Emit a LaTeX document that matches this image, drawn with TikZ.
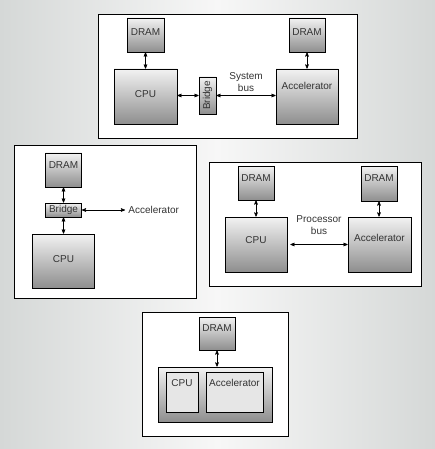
\documentclass[tikz,border=0pt]{standalone}
\usepackage{fontspec}
\setmainfont{Liberation Sans}
\usetikzlibrary{arrows}

\definecolor{bgside}{HTML}{D5D8D7}
\definecolor{bgmid}{HTML}{F7F7F7}
\definecolor{chiptop}{HTML}{F2F2F2}
\definecolor{chipbot}{HTML}{8E8E8E}
\definecolor{corefill}{HTML}{E6E6E6}

\begin{document}
\begin{tikzpicture}[-,>=stealth',x=1pt,y=-1pt,line width=0.8pt,
    chip/.style={draw,top color=chiptop,bottom color=chipbot,inner sep=0pt,text=black!80},
    core/.style={draw,fill=corefill,inner sep=0pt},
    panel/.style={draw,fill=white},
    lbl/.style={text=black!80,inner sep=0pt},
    bus/.style={<->,line width=0.6pt}]

  \shade[left color=bgside,right color=bgside,middle color=bgmid] (0,0) rectangle (435,449);

  % system bus
  \draw[panel] (98,14) rectangle (357,138);
  \node[chip,minimum width=37pt,minimum height=34pt,label={[lbl,yshift=3pt]center:DRAM}] (dramA1) at (145.5,35) {};
  \node[chip,minimum width=36pt,minimum height=34pt,label={[lbl,yshift=3pt]center:DRAM}] (dramA2) at (307,35) {};
  \node[chip,minimum width=63pt,minimum height=55pt,label={[lbl,yshift=2.5pt]center:CPU}] (cpuA) at (145.5,96.5) {};
  \node[chip,minimum width=17pt,minimum height=37pt,label={[lbl,rotate=90]center:Bridge}] (bridgeA) at (207.5,95.5) {};
  \node[chip,minimum width=62pt,minimum height=55pt,label={[lbl,yshift=10.5pt]center:Accelerator}] (accA) at (307,96.5) {};
  \node[lbl,align=center] (sysbus) at (246,82.5) {System\\bus};

  \draw[bus] (dramA1) -- (cpuA);
  \draw[bus] (dramA2) -- (accA);
  \draw[bus] (bridgeA.west -| cpuA.east) -- (bridgeA.west);
  \draw[bus] (bridgeA.east) -- (bridgeA.east -| accA.west);

  % bridge on the memory path
  \draw[panel] (14,145) rectangle (196,298);
  \node[chip,minimum width=36pt,minimum height=34pt,label={[lbl,yshift=5pt]center:DRAM}] (dramB) at (63.5,170) {};
  \node[chip,minimum width=36pt,minimum height=14pt] (bridgeB) at (63.5,210) {Bridge};
  \node[chip,minimum width=62pt,minimum height=54pt,label={[lbl,yshift=2pt]center:CPU}] (cpuB) at (63.5,261) {};
  \node[lbl,anchor=west] (accB) at (128,210) {Accelerator};

  \draw[bus] (dramB) -- (bridgeB);
  \draw[bus] (bridgeB) -- (cpuB);
  \draw[bus,shorten >=3pt] (bridgeB) -- (accB);

  % processor bus
  \draw[panel] (209,162) rectangle (421,286);
  \node[chip,minimum width=36pt,minimum height=34pt,label={[lbl,yshift=5pt]center:DRAM}] (dramC1) at (256,183) {};
  \node[chip,minimum width=36pt,minimum height=35pt,label={[lbl,yshift=5pt]center:DRAM}] (dramC2) at (379,183.5) {};
  \node[chip,minimum width=62pt,minimum height=55pt,label={[lbl,yshift=4.5pt]center:CPU}] (cpuC) at (256,244.5) {};
  \node[chip,minimum width=63pt,minimum height=55pt,label={[lbl,yshift=6.5pt]center:Accelerator}] (accC) at (379.5,244.5) {};
  \node[lbl,align=center] (procbus) at (319,225.5) {Processor\\bus};

  \draw[bus] (dramC1) -- (cpuC);
  \draw[bus] (dramC2.south) -- (dramC2.south |- accC.north);
  \draw[bus,shorten <=3pt] (cpuC) -- (accC);

  % single chip
  \draw[panel] (142,312) rectangle (288,436);
  \node[chip,minimum width=36pt,minimum height=33pt,label={[lbl,yshift=5.5pt]center:DRAM}] (dramD) at (217,333.5) {};
  \node[chip,minimum width=114pt,minimum height=55pt] (socD) at (215,394.5) {};
  \node[core,minimum width=32pt,minimum height=40pt,label={[lbl,yshift=9pt]center:CPU}] (cpuD) at (182,392) {};
  \node[core,minimum width=57pt,minimum height=40pt,label={[lbl,yshift=9pt]center:Accelerator}] (accD) at (234.5,392) {};

  \draw[bus] (dramD) -- (dramD |- socD.north);
\end{tikzpicture}
\end{document}
